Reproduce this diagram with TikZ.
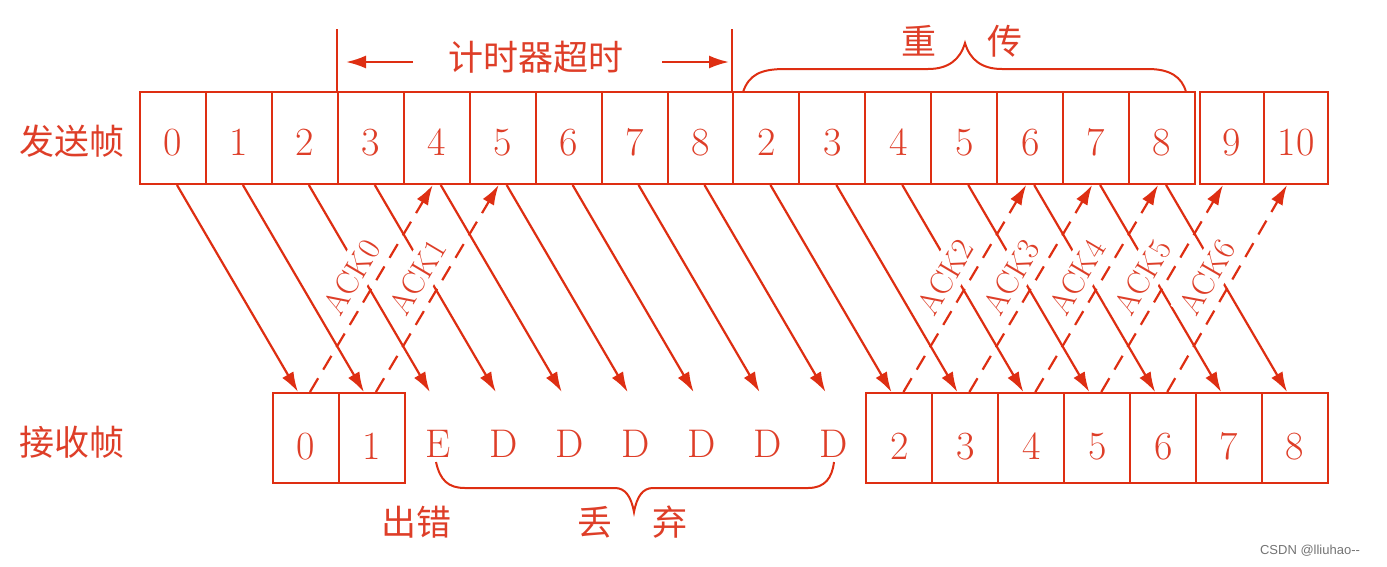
\documentclass[tikz,border=0pt]{standalone}
\usepackage{fontspec}
\newfontfamily\cjk{Noto Sans CJK SC}
\newfontfamily\wmfont{Liberation Sans}
\usetikzlibrary{arrows.meta,calc}
\definecolor{rl}{RGB}{222,46,18}
\definecolor{rt}{RGB}{222,62,40}
\begin{document}
\begin{tikzpicture}[x=1pt,y=-1pt,
  fbox/.style={draw=rl, line width=2pt, minimum width=65.94pt, minimum height=92pt,
    inner sep=0pt, text=rt, font=\fontsize{40}{48}\selectfont, text height=35.8pt, text depth=0pt},
  bbox/.style={fbox, minimum height=90pt, text height=43pt},
  lbox/.style={fbox, draw=none, minimum height=90pt, text height=39pt},
  cjklab/.style={text=rt, inner sep=0pt, font=\cjk\fontsize{35}{40}\selectfont},
  dat/.style={draw=rl, line width=2.2pt, -{Latex[length=20pt,width=13pt]}},
  ack/.style={draw=rl, line width=2.2pt, dash pattern=on 16pt off 10pt, -{Latex[length=20pt,width=13pt]}},
  acklab/.style={pos=0.5, sloped, above=4pt, fill=white, text=rt, inner xsep=3pt, inner ysep=6pt,
    font=\fontsize{32}{38}\selectfont},
  brace/.style={draw=rl, line width=2pt},
  tarrow/.style={draw=rl, line width=2.2pt, -{Latex[length=20pt,width=13pt]}}]
\useasboundingbox (0,0) rectangle (1387,566);

% row labels
\node[cjklab] (send) at (72,141) {发送帧};
\node[cjklab] (recv) at (72,442) {接收帧};

% sender frames
\foreach \lab [count=\j from 0] in {0,1,2,3,4,5,6,7,8,2,3,4,5,6,7,8}
  \node[fbox] (t\j) at ({140+65.94*(\j+0.5)},138) {\lab};
\node[fbox, minimum width=64pt] (t16) at (1232,138) {9};
\node[fbox, minimum width=64pt] (t17) at (1296,138) {10};

% receiver frames
\foreach \lab [count=\k from 0] in {0,1}
  \node[bbox] (b\k) at ({273+65.94*(\k+0.5)},438) {\lab};
\foreach \lab [count=\k from 2] in {E,D,D,D,D,D,D}
  \node[lbox] (b\k) at ({273+65.94*(\k+0.5)},438) {\lab};
\foreach \lab [count=\k from 9] in {2,3,4,5,6,7,8}
  \node[bbox] (b\k) at ({273+65.94*(\k+0.5)},438) {\lab};

% timer
\coordinate (tim1) at ([yshift=62pt]t3.north west);
\coordinate (tim2) at ([yshift=62pt]t9.north west);
\draw[brace] (t3.north west) -- (tim1);
\draw[brace] (t9.north west) -- (tim2);
\coordinate (la) at (413,62);
\coordinate (lb) at (346,62);
\coordinate (ra) at (662,62);
\coordinate (rb) at (729,62);
\draw[tarrow] (la) -- (lb);
\draw[tarrow] (ra) -- (rb);
\node[cjklab] (timer) at (536,57) {计时器超时};

% retransmit brace
\draw[brace] (743,92) .. controls (749,75) and (760,69) .. (785,69) -- (928,69)
  .. controls (948,69) and (960,60) .. (965,43) .. controls (970,60) and (982,69) .. (1002,69)
  -- (1148,69) .. controls (1170,69) and (1182,77) .. (1186,92);
\node[cjklab] (chong) at (919,41) {重};
\node[cjklab] (chuan) at (1005,41) {传};

% data frames
\foreach \j in {0,...,15}
  \draw[dat] ([xshift=4pt]t\j.south) -- ([xshift=-8pt]b\j.north);

% acknowledgements
\foreach \s/\e/\n/\o in {0/4/0/4pt, 1/5/1/4pt, 9/13/2/4pt, 10/14/3/4pt, 11/15/4/4pt, 12/16/5/9pt, 13/17/6/9pt}
  \draw[ack] ([xshift=4pt]b\s.north) -- node[acklab] {ACK\n} ([xshift=-\o]t\e.south);

% discard brace
\draw[brace] (436,462) .. controls (440,480) and (448,488) .. (465,488) -- (615,488)
  .. controls (625,488) and (631,496) .. (634,512) .. controls (637,496) and (643,488) .. (653,488)
  -- (808,488) .. controls (825,488) and (832,478) .. (834,462);
\node[cjklab] (err) at (416,522) {出错};
\node[cjklab] (diu) at (595,522) {丢};
\node[cjklab] (qi) at (670,522) {弃};

% watermark
\node[text=black!55, inner sep=0pt, font=\wmfont\fontsize{13}{15}\selectfont] (wm) at (1310,551) {CSDN @lliuhao--};
\end{tikzpicture}
\end{document}
